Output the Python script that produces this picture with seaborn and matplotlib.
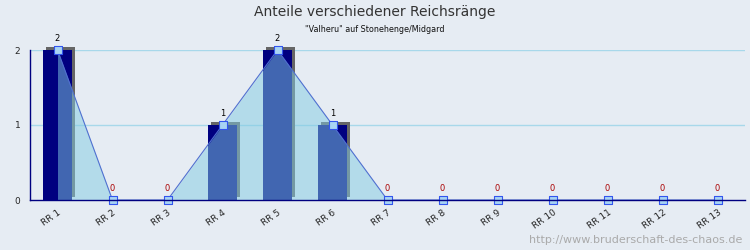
import matplotlib
matplotlib.use("Agg")
import matplotlib.pyplot as plt
import matplotlib.transforms as mtransforms
import seaborn as sns
import numpy as np
import pandas as pd

categories = ["RR 1", "RR 2", "RR 3", "RR 4", "RR 5", "RR 6", "RR 7",
              "RR 8", "RR 9", "RR 10", "RR 11", "RR 12", "RR 13"]
values = [2, 0, 0, 1, 2, 1, 0, 0, 0, 0, 0, 0, 0]
yticks = [0, 1, 2]
title = "Anteile verschiedener Reichsränge"
subtitle = "\"Valheru\" auf Stonehenge/Midgard"
footer = "http://www.bruderschaft-des-chaos.de"

BG = "#e6ecf3"
NAVY = "#000080"

sns.set_theme(style="white")
plt.rcParams["font.family"] = ["DejaVu Sans"]

df = pd.DataFrame({"cat": categories, "val": values})
pos = np.arange(len(categories))

fig = plt.figure(figsize=(7.5, 2.5), dpi=100, facecolor=BG)
ax = fig.add_axes([30 / 750, 50 / 250, 715 / 750, 150 / 250])
ax.set_facecolor(BG)

# grid
for yv in yticks[1:]:
    ax.axhline(yv, color="#a8d8ea", lw=1, zorder=0)

barw = 0.53
dx = 3 / 55
dy = 3 / 75
vals = np.array(values, dtype=float)
mask = vals > 0
# shadow
shadow = ax.bar(pos[mask] + dx, vals[mask], width=barw, bottom=dy,
                color="#666666", zorder=1, linewidth=0)
for r in shadow:
    r.set_clip_on(False)
# bars
sns.barplot(data=df, x="cat", y="val", color=NAVY, width=barw, ax=ax,
            saturation=1, zorder=2, linewidth=0)

# area + line
ax.fill_between(pos, 0, vals, color="#82cce3", alpha=0.5, zorder=3, linewidth=0)
ax.plot(pos, vals, color="#5070d0", lw=0.8, zorder=4)
ax.scatter(pos, vals, marker="s", s=28, facecolor="#a8d4f4",
           edgecolor="#3355ee", linewidth=0.8, zorder=5, clip_on=False)

# value labels
for p, v in zip(pos, values):
    ax.annotate(str(v), (p, v), xytext=(0, 5), textcoords="offset points",
                ha="center", va="bottom", fontsize=6,
                color="black" if v > 0 else "#aa0000", zorder=6)

ax.set_xlim(-0.5, len(categories) - 0.5)
ax.set_ylim(0, 2)
ax.set_yticks(yticks)
ax.set_yticklabels([str(t) for t in yticks], fontsize=6.5)
ax.set_xticks(pos)
ax.set_xticklabels(categories, rotation=35, ha="right", rotation_mode="anchor",
                   fontsize=6.5)
offset = mtransforms.ScaledTranslation(-3 / 100, 0, fig.dpi_scale_trans)
for lbl in ax.get_xticklabels():
    lbl.set_transform(lbl.get_transform() + offset)
ax.set_xticks(np.arange(-0.5, len(categories)), minor=True)
ax.tick_params(axis="x", which="major", length=0, pad=6)
ax.tick_params(axis="x", which="minor", direction="in", length=4,
               color=NAVY, width=1)
ax.tick_params(axis="y", direction="in", length=4, color=NAVY, width=1, pad=7)
ax.set_xlabel("")
ax.set_ylabel("")
for s in ["top", "right"]:
    ax.spines[s].set_visible(False)
for s in ["left", "bottom"]:
    ax.spines[s].set_color(NAVY)
    ax.spines[s].set_linewidth(1)
    ax.spines[s].set_zorder(7)

fig.text(0.5, 1 - 12 / 250, title, ha="center", va="center", fontsize=10,
         color="#333333")
fig.text(0.5, 1 - 30 / 250, subtitle, ha="center", va="center", fontsize=5.8,
         color="#111111")
fig.text(742 / 750, 1 - 240 / 250, footer, ha="right", va="center",
         fontsize=8, color="#aaaaaa")

fig.savefig("out.png", dpi=100, facecolor=BG)
